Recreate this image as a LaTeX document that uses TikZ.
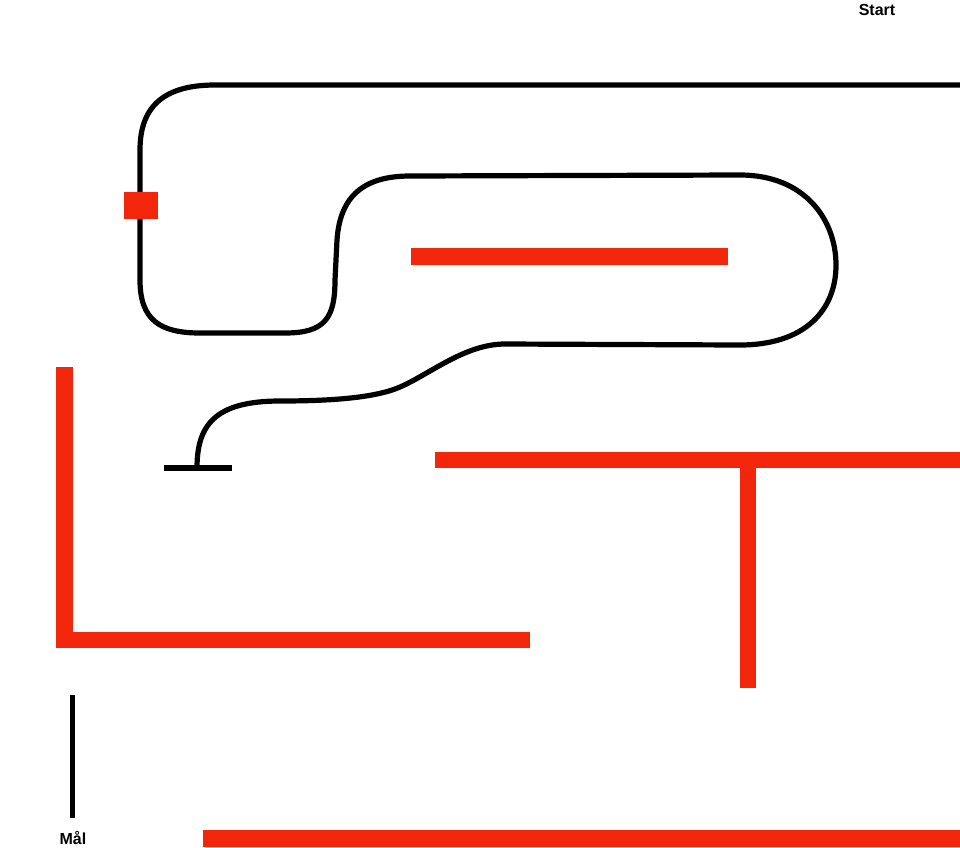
\documentclass[tikz,border=0pt]{standalone}
\usepackage{fontspec}
\setmainfont{Liberation Sans}
\definecolor{wallred}{RGB}{242,38,10}
\begin{document}
\begin{tikzpicture}[x=1pt,y=-1pt,
  wall/.style={fill=wallred},
  track/.style={draw=black,line width=5.2pt},
  lbl/.style={font=\fontsize{16}{18}\selectfont\bfseries,inner sep=0pt}]
\useasboundingbox[fill=white] (0,0) rectangle (960,847);
% red walls
\fill[wall] (411,248) rectangle (728,265);
\fill[wall] (56,367) rectangle (73,648);
\fill[wall] (56,632) rectangle (530,648);
\fill[wall] (435,452) rectangle (960,468);
\fill[wall] (740,452) rectangle (756,688);
\fill[wall] (203,830) rectangle (960,847);
% track
\coordinate (trackstart) at (960,85);
\coordinate (trackend) at (197,468);
\draw[track] (trackstart) -- (215,85) .. controls (160,85) and (140,110) .. (140,150)
  -- (140,280) .. controls (140,320) and (160,333) .. (200,333)
  -- (285,333) .. controls (325,333) and (335,318) .. (335,280)
  -- (337,240) .. controls (340,195) and (365,176) .. (410,176)
  -- (740,175) .. controls (805,175) and (836,220) .. (836,265)
  .. controls (836,310) and (805,345) .. (740,345)
  -- (505,344) .. controls (465,344) and (430,374) .. (400,387)
  .. controls (375,398) and (330,401) .. (280,401)
  .. controls (215,401) and (197,425) .. (trackend);
\draw[track] (164,468) -- (232,468);
\fill[wallred] (124,192) rectangle (158,219);
% goal line
\coordinate (goaltop) at (72.5,695);
\coordinate (goalbot) at (72.5,818);
\draw[black,line width=5.5pt] (goaltop) -- (goalbot);
% labels
\node[lbl] (start) at (877,10) {Start};
\node[lbl] (goal) at (73,838) {Mål};
\end{tikzpicture}
\end{document}
